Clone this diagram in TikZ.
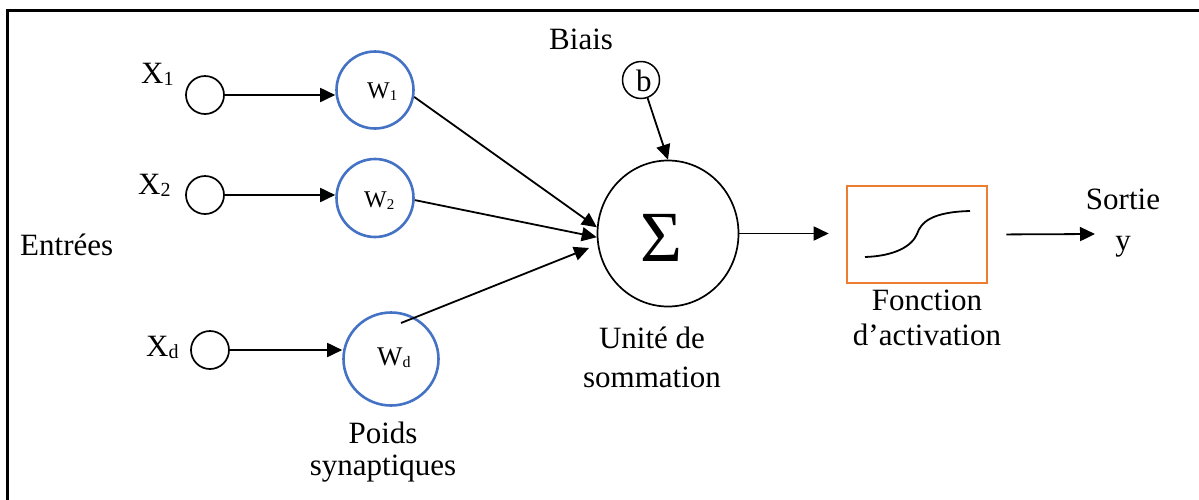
\documentclass[tikz,border=0pt]{standalone}
\usepackage{fontspec}
\setmainfont{Liberation Serif}
\usetikzlibrary{arrows.meta,shapes.geometric}
\definecolor{wblue}{RGB}{68,114,196}
\definecolor{actorange}{RGB}{237,125,49}
% lowered small index used for X_i and W_i
\newcommand{\lowidx}[2][20]{\raisebox{-2pt}{\fontsize{#1}{#1}\selectfont #2}}
\tikzset{
  lbl/.style={inner sep=0pt, anchor=base west, font=\fontsize{31}{36}\selectfont},
  twoline/.style={inner sep=0pt, anchor=base, align=center},
  inputdot/.style={circle, draw, line width=1.7pt, minimum size=38pt, inner sep=0pt},
  weight/.style={ellipse, draw=wblue, line width=2.6pt, inner sep=0pt},
  arr/.style={-{Triangle[length=15pt,width=14pt]}, line width=1.8pt},
}
\begin{document}
\begin{tikzpicture}[x=1pt,y=-1pt]
\useasboundingbox (0,0) rectangle (1199,499);
\fill[white] (0,0) rectangle (1199,499);
\begin{scope}
  \clip (0,0) rectangle (1199,499);
  \draw[line width=3pt] (1215,10) -- (7,10) -- (7,515);
\end{scope}

% inputs
\node[inputdot] (x1) at (205,95) {};
\node[inputdot] (x2) at (205,195) {};
\node[inputdot] (xd) at (210,350) {};
\node[lbl] (x1lbl) at (141,83) {X\lowidx{1}};
\node[lbl] (x2lbl) at (138,194) {X\lowidx{2}};
\node[lbl] (xdlbl) at (146,356) {X\lowidx{d}};
\node[lbl] (entrees) at (20,255) {Entrées};

% synaptic weights
\node[weight, minimum width=77pt, minimum height=77pt] (w1) at (375,90) {};
\node[weight, minimum width=77pt, minimum height=78pt] (w2) at (375,198) {};
\node[weight, minimum width=95pt, minimum height=93pt] (wd) at (391,359) {};
\node[lbl, font=\fontsize{24}{28}\selectfont] (w1lbl) at (367,98) {W\lowidx[15]{1}};
\node[lbl, font=\fontsize{24}{28}\selectfont] (w2lbl) at (364,207) {W\lowidx[15]{2}};
\node[lbl, font=\fontsize{27}{30}\selectfont] (wdlbl) at (377,365) {W\lowidx[16]{d}};
\node[twoline, font=\fontsize{31}{32}\selectfont] (poids) at (383,475) {Poids\\synaptiques};

% summation unit and bias
\node[ellipse, draw, line width=1.7pt, minimum width=141pt, minimum height=146pt, inner sep=0pt] (sum) at (668,233.5) {};
\node[inner sep=0pt, font=\fontsize{72}{72}\selectfont] (sigma) at (661,238) {Σ};
\node[twoline, font=\fontsize{31}{39}\selectfont] (unite) at (652,387) {Unité de\\sommation};
\node[circle, draw, line width=1.5pt, minimum size=37pt, inner sep=0pt] (b) at (641,80) {};
\node[lbl] (blbl) at (636,91) {b};
\node[lbl] (biais) at (549,49) {Biais};

% activation function
\node[draw=actorange, line width=2.6pt, minimum width=140pt, minimum height=97pt, inner sep=0pt] (box) at (917,234.5) {};
\draw[line width=1.8pt] (865,257) .. controls (895,256) and (912,246) .. (917,234)
  .. controls (921,222) and (932,212) .. (970,211);
\node[twoline, font=\fontsize{31}{35}\selectfont] (fonction) at (927,345) {Fonction\\d’activation};
\coordinate (yout) at (1095,234);
\node[twoline, font=\fontsize{31}{41}\selectfont] (sortie) at (1123,250) {Sortie\\y};

% connectors
\draw[arr] (x1.east) -- (x1.east -| w1.west);
\draw[arr] (x2.east) -- (x2.east -| w2.west);
\draw[arr] (xd.east) -- (xd.east -| wd.west);
\draw[arr] (w1.-10) -- (sum.175);
\draw[arr] (w2.-3) -- (sum.183);
\coordinate (wdfrom) at (401,323);
\coordinate (wdto) at (589,248);
\draw[arr] (wdfrom) -- (wdto);
\draw[arr] (b.-70) -- (sum.north);
\draw[arr, shorten >=17pt] (sum.east) -- (sum.east -| box.west);
\draw[arr, shorten <=18pt] (box.east) -- (yout);
\end{tikzpicture}
\end{document}
